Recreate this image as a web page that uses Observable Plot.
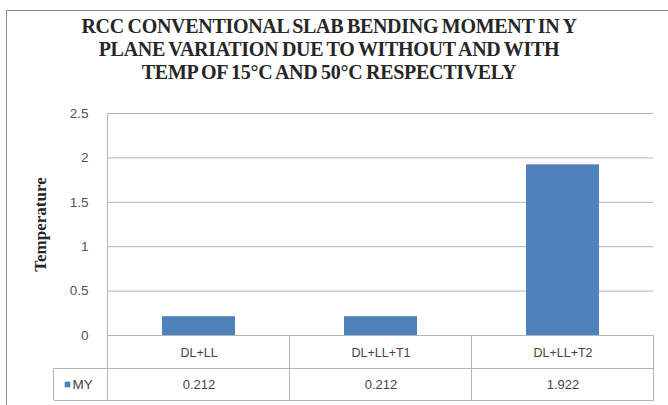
<!DOCTYPE html>
<html>
<head>
<meta charset="utf-8">
<script src="https://cdn.jsdelivr.net/npm/d3@7"></script>
<script src="https://cdn.jsdelivr.net/npm/@observablehq/plot@0.6"></script>
<style>
  html, body { margin: 0; padding: 0; background: #fff; }
  #wrap { position: relative; width: 668px; height: 405px; overflow: hidden; background: #fff; }
  #border { position: absolute; left: 6px; top: 10px; width: 700px; height: 420px; border: 1.5px solid #8c8c8c; box-sizing: border-box; }
  #title { position: absolute; left: 29px; width: 600px; top: 15px; text-align: center;
    font-family: "Liberation Serif", "DejaVu Serif", serif; font-weight: bold; font-size: 20px;
    line-height: 23px; color: #262626; letter-spacing: -0.3px; word-spacing: -1px; }
  #chart { position: absolute; left: 0; top: 95px; }
</style>
</head>
<body>
<div id="wrap">
  <div id="border"></div>
  <div id="title">RCC CONVENTIONAL SLAB BENDING MOMENT IN Y<br>PLANE VARIATION DUE TO WITHOUT AND WITH<br>TEMP OF 15°C AND 50°C RESPECTIVELY</div>
  <div id="chart"></div>
</div>
<script>
const categories = ["DL+LL", "DL+LL+T1", "DL+LL+T2"];
const myValues = [0.212, 0.212, 1.922];
const valueLabels = ["0.212", "0.212", "1.922"];
const seriesName = "MY";
const yTicks = [0, 0.5, 1, 1.5, 2, 2.5];
const yLabel = "Temperature";

const data = categories.map((c, i) => ({cat: c, v: myValues[i], label: valueLabels[i]}));
const barColor = "#4f81bd";
const gridColor = "#b4b4b4";
const W = 668, H = 310, mL = 107, mR = 15, mT = 18, mB = 70;

const plot = Plot.plot({
  width: W, height: H,
  marginLeft: mL, marginRight: mR, marginTop: mT, marginBottom: mB,
  style: {fontFamily: "Liberation Sans, Arial, sans-serif", background: "transparent"},
  x: {domain: categories, paddingInner: 0.6, paddingOuter: 0.3, axis: null},
  y: {domain: [0, 2.5], ticks: yTicks, axis: null},
  marks: [
    Plot.gridY(yTicks.filter(t => t > 0), {stroke: gridColor, strokeOpacity: 1}),
    Plot.axisY(yTicks, {tickSize: 0, tickPadding: 19, tickFormat: d => String(d), fontSize: 13.5, fill: "#555", label: null}),
    Plot.barY(data, {x: "cat", y: "v", fill: barColor}),
    Plot.text(data, {x: "cat", y: () => 0, text: "cat", dy: 17, fontSize: 12.5, fill: "#444"}),
    Plot.text(data, {x: "cat", y: () => 0, text: "label", dy: 49, fontSize: 13, fill: "#444"}),
    Plot.text([seriesName], {frameAnchor: "bottom-left", text: d => d, dx: -35, dy: 49, textAnchor: "start", lineAnchor: "middle", fontSize: 13.5, fill: "#444"}),
    Plot.dot([seriesName], {frameAnchor: "bottom-left", dx: -40, dy: 49, symbol: "square", r: 3.2, fill: barColor}),
    Plot.text([yLabel], {frameAnchor: "left", text: d => d, rotate: -90, dx: -67, textAnchor: "middle", lineAnchor: "middle", fontSize: 17, fontWeight: "bold", fontFamily: "Liberation Serif, serif", fill: "#262626"})
  ]
});
document.getElementById("chart").appendChild(plot);

// data-table borders, positioned from the plot's own scales
const xs = plot.scale("x"), ys = plot.scale("y");
const step = xs.step, bw = xs.bandwidth;
const tLeft = xs.apply(categories[0]) - (step - bw) / 2;
const tRight = xs.apply(categories[categories.length - 1]) + bw + (step - bw) / 2;
const y0 = ys.apply(0), row1 = y0 + 33, row2 = y0 + 65, legLeft = tLeft - 54;
const yTop = ys.apply(2.5);
const svg = d3.select(plot);
const g = svg.append("g").attr("stroke", gridColor).attr("stroke-width", 1).attr("shape-rendering", "crispEdges");
g.append("line").attr("x1", tLeft).attr("x2", tRight).attr("y1", y0).attr("y2", y0);
g.append("line").attr("x1", legLeft).attr("x2", tRight).attr("y1", row1).attr("y2", row1);
g.append("line").attr("x1", legLeft).attr("x2", tRight).attr("y1", row2).attr("y2", row2);
g.append("line").attr("x1", tLeft).attr("x2", tLeft).attr("y1", yTop).attr("y2", row2);
g.append("line").attr("x1", legLeft).attr("x2", legLeft).attr("y1", row1).attr("y2", row2);
categories.forEach((c) => {
  const xr = xs.apply(c) + bw + (step - bw) / 2;
  g.append("line").attr("x1", xr).attr("x2", xr).attr("y1", y0).attr("y2", row2);
});
</script>
</body>
</html>
